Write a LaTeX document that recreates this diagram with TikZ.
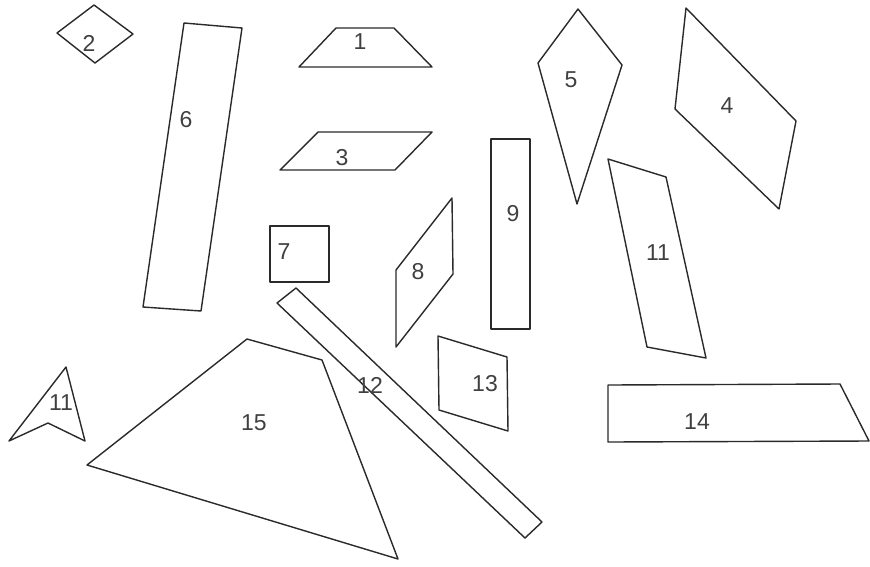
\documentclass[tikz,border=0pt]{standalone}
\usepackage{fontspec}
\setmainfont{Liberation Sans}
\definecolor{ink}{HTML}{2A2A2A}
\definecolor{txt}{HTML}{404040}
\begin{document}
\begin{tikzpicture}[x=1pt,y=-1pt,
  piece/.style={draw=ink,line width=1.4pt,line join=round},
  lbl/.style={text=txt,font=\fontsize{23}{23}\selectfont,inner sep=0pt}]
\useasboundingbox (0,0) rectangle (870,566);
\fill[white] (0,0) rectangle (870,566);
% 2
\draw[piece] (94,5) -- (133,34) -- (95,63) -- (57,33) -- cycle;
\node[lbl] (l2) at (89,43) {2};
% 6
\draw[piece] (184,23) -- (242,28) -- (201,311) -- (143,307) -- cycle;
\node[lbl] (l6) at (186,120) {6};
% 1
\draw[piece] (336,28) -- (394,28) -- (432,67) -- (299,67) -- cycle;
\node[lbl] (l1) at (360,42) {1};
% 3
\draw[piece] (318,132) -- (432,132) -- (395,170) -- (280,170) -- cycle;
\node[lbl] (l3) at (342,158) {3};
% 9
\draw[piece] (491,139) -- (530,139) -- (530,329) -- (491,329) -- cycle;
\node[lbl] (l9) at (513,214) {9};
% 5
\draw[piece] (578,9) -- (622,65) -- (577,204) -- (538,63) -- cycle;
\node[lbl] (l5) at (571,80) {5};
% 4
\draw[piece] (686,8) -- (796,121) -- (779,209) -- (675,109) -- cycle;
\node[lbl] (l4) at (727,106) {4};
% 11 right
\draw[piece] (608,159) -- (666,177) -- (706,358) -- (647,347) -- cycle;
\node[lbl] (l11a) at (658,253) {11};
% 14
\draw[piece] (608,385) -- (840,384) -- (869,441) -- (608,442) -- cycle;
\node[lbl] (l14) at (697,422) {14};
% 7
\draw[piece] (270,226) -- (329,226) -- (329,282) -- (270,282) -- cycle;
\node[lbl] (l7) at (284,252) {7};
% 12
\draw[piece] (296,288) -- (542,522) -- (525,538) -- (277,303) -- cycle;
\node[lbl] (l12) at (370,385) {12};
% 8
\draw[piece] (452,198) -- (453,274) -- (396,347) -- (396,270) -- cycle;
\node[lbl] (l8) at (418,272) {8};
% 13
\draw[piece] (438,336) -- (507,357) -- (508,431) -- (439,410) -- cycle;
\node[lbl] (l13) at (485,384) {13};
% 15
\draw[piece] (247,339) -- (322,360) -- (398,559) -- (87,465) -- cycle;
\node[lbl] (l15) at (254,423) {15};
% 11 left
\draw[piece] (66,367) -- (85,441) -- (48,423) -- (9,441) -- cycle;
\node[lbl] (l11b) at (61,403) {11};
\end{tikzpicture}
\end{document}
